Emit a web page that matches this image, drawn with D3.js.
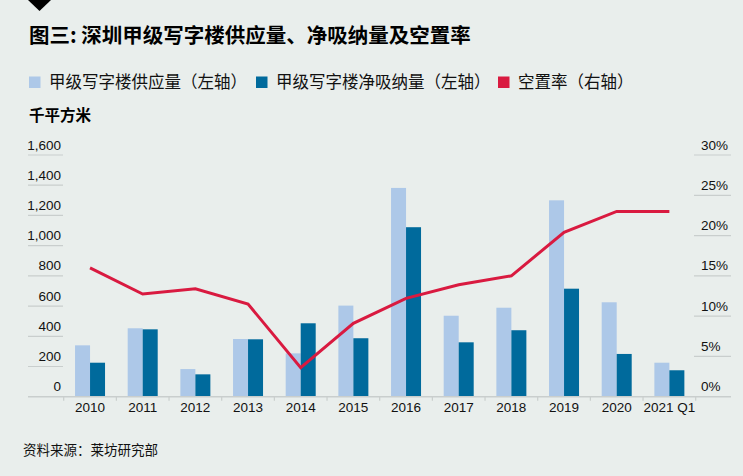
<!DOCTYPE html>
<html><head><meta charset="utf-8">
<script src="https://cdn.jsdelivr.net/npm/d3@7"></script>
<style>
html,body{margin:0;padding:0;background:#e9eeec;}
svg{display:block;}
</style></head>
<body>
<svg id="chart" width="743" height="476"></svg>
<script>
const categories = ["2010","2011","2012","2013","2014","2015","2016","2017","2018","2019","2020","2021 Q1"];
const supply = [340, 453, 183, 382, 287, 603, 1382, 536, 589, 1300, 625, 225];
const absorption = [225, 446, 148, 380, 486, 387, 1122, 360, 440, 715, 283, 175];
const vacancy = [16.0, 12.75, 13.4, 11.5, 3.6, 9.1, 12.2, 13.9, 15.0, 20.4, 23.0, 23.0];
const leftTicks = [0, 200, 400, 600, 800, 1000, 1200, 1400, 1600];
const rightTicks = [0, 5, 10, 15, 20, 25, 30];
const title = "图三: 深圳甲级写字楼供应量、净吸纳量及空置率";
const legendLabels = ["甲级写字楼供应量（左轴）", "甲级写字楼净吸纳量（左轴）", "空置率（右轴）"];
const unitLabel = "千平方米";
const sourceLabel = "资料来源：莱坊研究部";

const colors = {light:"#adc8e8", dark:"#006a9c", red:"#d91a40", grid:"#c9cecd", text:"#111"};
const svg = d3.select("#chart");
const cjk = "'Noto Sans CJK SC', sans-serif";
const num = "'Liberation Sans', Arial, sans-serif";

const x0 = 63.7, x1 = 695.7, yTop = 155, yBot = 396.7;
const x = d3.scaleBand().domain(categories).range([x0, x1]).paddingInner(0).paddingOuter(0);
const yL = d3.scaleLinear().domain([0, 1600]).range([yBot, yTop]);
const yR = d3.scaleLinear().domain([0, 30]).range([yBot, yTop]);

// triangle marker
svg.append("path").attr("d", d3.line()([[28,0],[51,0],[39.5,11]]) + "Z").attr("fill", "#000");

// title
svg.append("text").attr("x", 29).attr("y", 43).text(title)
  .attr("font-family", cjk).attr("font-weight", 700).attr("font-size", 20.5).attr("fill", "#000");

// legend
const legendX = [29, 256, 498];
const legendColors = [colors.light, colors.dark, colors.red];
legendLabels.forEach((t, i) => {
  svg.append("rect").attr("x", legendX[i]).attr("y", 76.5).attr("width", 11.5).attr("height", 11.5).attr("fill", legendColors[i]);
  svg.append("text").attr("x", legendX[i] + 20).attr("y", 88).text(t)
    .attr("font-family", cjk).attr("font-size", 16.5).attr("fill", colors.text);
});

svg.append("text").attr("x", 29).attr("y", 121).text(unitLabel)
  .attr("font-family", cjk).attr("font-weight", 700).attr("font-size", 15.5).attr("fill", "#000");

// left gridlines + labels
const gL = svg.append("g");
leftTicks.forEach(v => {
  if (v > 0) gL.append("line").attr("x1", 28).attr("x2", 63).attr("y1", yL(v)).attr("y2", yL(v))
    .attr("stroke", colors.grid).attr("stroke-width", 1.2);
  gL.append("text").attr("x", 61).attr("y", yL(v) - 5.5).attr("text-anchor", "end")
    .text(d3.format(",")(v)).attr("font-family", num).attr("font-size", 13.5).attr("fill", colors.text);
});
// right gridlines + labels
const gR = svg.append("g");
rightTicks.forEach(v => {
  if (v > 0) gR.append("line").attr("x1", 694).attr("x2", 731).attr("y1", yR(v)).attr("y2", yR(v))
    .attr("stroke", colors.grid).attr("stroke-width", 1.2);
  gR.append("text").attr("x", 701).attr("y", yR(v) - 5.5).attr("text-anchor", "start")
    .text(v + "%").attr("font-family", num).attr("font-size", 13.5).attr("fill", colors.text);
});

// bars
const bw = 15;
svg.append("g").selectAll("rect").data(categories).join("rect")
  .attr("x", (d) => x(d) + x.bandwidth()/2 - bw)
  .attr("y", (d, i) => yL(supply[i]))
  .attr("width", bw).attr("height", (d, i) => yBot - yL(supply[i]))
  .attr("fill", colors.light);
svg.append("g").selectAll("rect").data(categories).join("rect")
  .attr("x", (d) => x(d) + x.bandwidth()/2)
  .attr("y", (d, i) => yL(absorption[i]))
  .attr("width", bw).attr("height", (d, i) => yBot - yL(absorption[i]))
  .attr("fill", colors.dark);

// x axis baseline
svg.append("line").attr("x1", 28).attr("x2", 731).attr("y1", yBot).attr("y2", yBot)
  .attr("stroke", colors.grid).attr("stroke-width", 1.5);
// ticks at band boundaries
const bounds = categories.map(c => x(c)).concat([x1]);
svg.append("g").selectAll("line").data(bounds).join("line")
  .attr("x1", d => d).attr("x2", d => d).attr("y1", yBot).attr("y2", yBot + 4)
  .attr("stroke", colors.grid).attr("stroke-width", 1.2);
// x labels
svg.append("g").selectAll("text").data(categories).join("text")
  .attr("x", d => x(d) + x.bandwidth()/2).attr("y", 412).attr("text-anchor", "middle")
  .text(d => d).attr("font-family", num).attr("font-size", 13.5).attr("fill", colors.text);

// vacancy line
const line = d3.line().x((d, i) => x(categories[i]) + x.bandwidth()/2).y(d => yR(d));
svg.append("path").datum(vacancy).attr("d", line).attr("fill", "none")
  .attr("stroke", colors.red).attr("stroke-width", 3).attr("stroke-linejoin", "miter");

// source
svg.append("text").attr("x", 23).attr("y", 455).text(sourceLabel)
  .attr("font-family", cjk).attr("font-size", 13.5).attr("fill", colors.text);
</script>
</body></html>
